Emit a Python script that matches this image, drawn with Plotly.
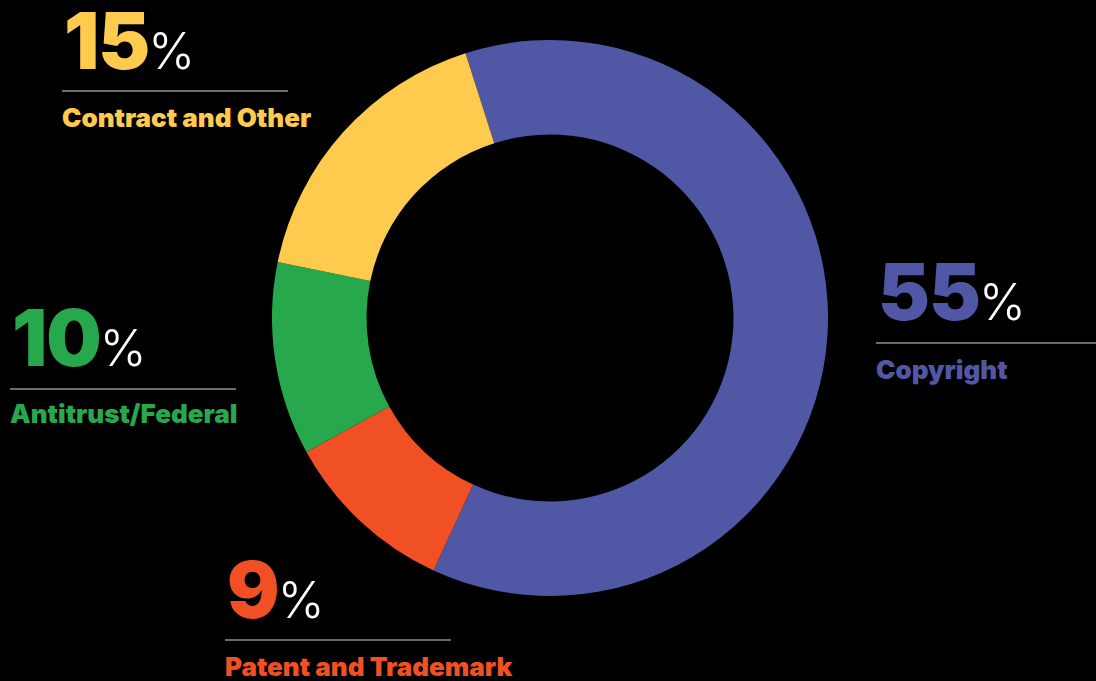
import plotly.graph_objects as go

# Data
categories = ["Copyright", "Patent and Trademark", "Antitrust/Federal", "Contract and Other"]
values = [55, 9, 10, 15]
colors = ["#5058A6", "#F05023", "#28A84C", "#FFCB4E"]

W, H = 1096, 681

# Label layout (pixel positions of label blocks): left x, number center y, rule y, rule x end, name center y
label_layout = {
    "Copyright": dict(x=876, num_y=291, rule_y=343, rule_x1=1096, name_y=369),
    "Patent and Trademark": dict(x=225, num_y=589, rule_y=640, rule_x1=451, name_y=666),
    "Antitrust/Federal": dict(x=10, num_y=337, rule_y=389, rule_x1=236, name_y=414),
    "Contract and Other": dict(x=62, num_y=40, rule_y=91, rule_x1=288, name_y=117),
}

FONT = "Inter"

fig = go.Figure()
fig.add_trace(go.Pie(
    labels=categories,
    values=values,
    marker=dict(colors=colors, line=dict(width=0)),
    hole=0.66,
    sort=False,
    direction="clockwise",
    rotation=-17.7,
    textinfo="none",
    hoverinfo="label+percent",
    showlegend=False,
    domain=dict(x=[(550 - 278) / W, (550 + 278) / W], y=[1 - 596 / H, 1 - 40 / H]),
))

def px(x):
    return x / W

def py(y):
    return 1 - y / H

annotations = []
shapes = []
for cat, val, col in zip(categories, values, colors):
    L = label_layout[cat]
    s = str(val)
    head = f"<span style='font-weight:900;letter-spacing:-1px'>{s[:-1]}</span>" if len(s) > 1 else ""
    tail = f"<span style='font-weight:900;letter-spacing:-2px'>{s[-1]}</span>"
    annotations.append(dict(
        xref="paper", yref="paper", x=px(L["x"]), y=py(L["num_y"]),
        xanchor="left", yanchor="middle", showarrow=False,
        text=head + tail +
             "<span style='font-size:50px;font-weight:300;color:#ffffff'>%</span>",
        font=dict(family=FONT, size=78, color=col, weight=900),
    ))
    annotations.append(dict(
        xref="paper", yref="paper", x=px(L["x"] - 2), y=py(L["name_y"]),
        xanchor="left", yanchor="middle", showarrow=False,
        text=cat,
        font=dict(family=FONT, size=26, color=col, weight=900),
    ))
    shapes.append(dict(
        type="line", xref="paper", yref="paper",
        x0=px(L["x"]), x1=px(L["rule_x1"]), y0=py(L["rule_y"]), y1=py(L["rule_y"]),
        line=dict(color="#d8d8d8", width=1),
    ))

fig.update_layout(
    width=W, height=H,
    margin=dict(l=0, r=0, t=0, b=0),
    paper_bgcolor="#000000",
    plot_bgcolor="#000000",
    annotations=annotations,
    shapes=shapes,
)

fig.write_html("out.html")
